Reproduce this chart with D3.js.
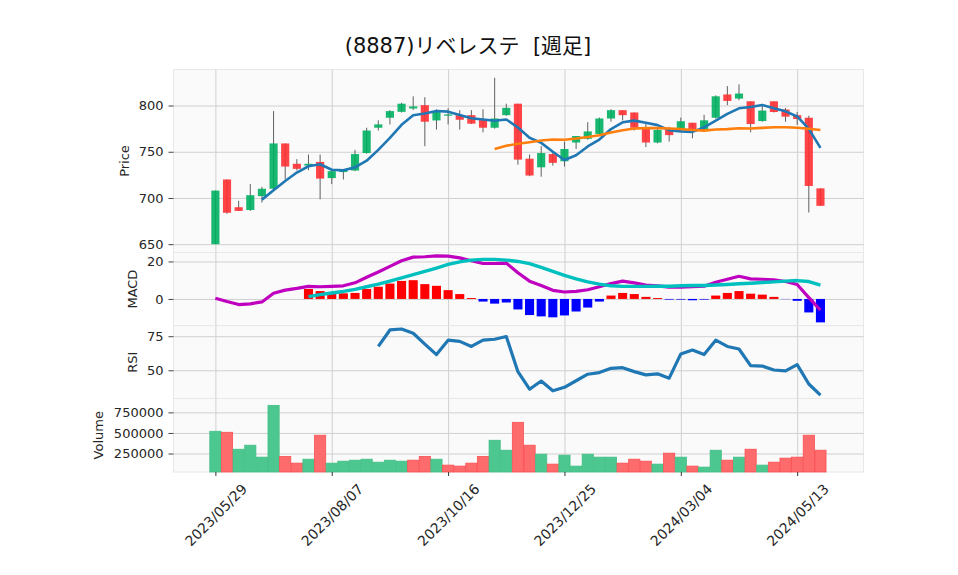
<!DOCTYPE html>
<html>
<head>
<meta charset="utf-8">
<script src="https://cdn.jsdelivr.net/npm/d3@7"></script>
<style>
  body { margin: 0; background: #fff; }
  text { font-family: "DejaVu Sans", "Noto Sans CJK JP", sans-serif; }
</style>
</head>
<body>
<div id="chart"></div>
<script>
// weekly bars, first week 2023/05/29
var tickIndex = [0, 10, 20, 30, 40, 50];
var tickLabels = ["2023/05/29", "2023/08/07", "2023/10/16", "2023/12/25", "2024/03/04", "2024/05/13"];

var opens = [650, 720, 690, 687, 702, 710, 759, 737, 735, 739, 721.5, 728, 729.7, 748.6, 776, 786.8, 793.2, 796.8, 800.4, 783.9,
  789, 789.6, 789.6, 784.3, 776, 789.6, 802, 742.5, 733.2, 747.5, 739.7, 760, 764, 769.3, 786, 795, 792.5, 775.4, 760, 775.4,
  775.4, 781.4, 773.6, 786.8, 812, 807.5, 804.6, 783.2, 804.6, 795.7, 789.6, 786.8, 710.4];
var highs = [708, 720, 697, 715, 712, 794, 759, 742, 747, 747, 730, 731, 752, 776, 784, 795, 803, 810, 809, 796,
  797, 795, 795, 796, 830, 802, 802, 747, 756, 749, 761, 767, 782, 787, 796, 795, 792.5, 781, 775, 777,
  787, 781.4, 790, 811, 821, 823, 804.6, 800.4, 804.6, 797.5, 793, 789, 710.4];
var lows = [650, 683, 686, 686, 695, 709, 720, 729.7, 730, 698.6, 715, 720, 729, 748, 773, 779.6, 792.5, 795, 756, 774,
  779.6, 774, 780, 771, 775, 789, 736, 723.6, 723, 735, 734, 753, 763, 769, 782.5, 784, 773, 755, 759, 761,
  775, 764.6, 773, 786, 800.4, 805.7, 771, 782.5, 792.5, 782.5, 779, 684.3, 691.5];
var closes = [708, 684, 686, 703, 710, 759, 734, 731.5, 737, 721, 729, 731, 747.5, 773, 779.6, 794, 802, 799, 782.5, 793,
  790.4, 784.6, 780.4, 776, 786, 797.5, 741.5, 724.3, 748.6, 738, 753, 767, 772, 786, 795, 789.6, 776, 760, 773.6, 768,
  783, 773, 784, 810, 805, 813, 780, 794.6, 793, 788, 785.4, 713, 691.5];
var volumes = [520000, 508000, 302000, 351000, 206000, 835000, 214000, 133000, 181000, 472000, 133000, 157000, 169000, 181000,
  145000, 169000, 157000, 169000, 214000, 181000, 109000, 97000, 133000, 214000, 411000, 290000, 629000, 351000, 242000,
  121000, 230000, 97000, 242000, 206000, 206000, 133000, 181000, 157000, 121000, 254000, 206000, 97000, 85000, 290000,
  169000, 206000, 302000, 109000, 145000, 194000, 206000, 472000, 290000];

var ma5 = [null, null, null, null, 698.2, 708.4, 718.4, 727.5, 734.3, 736.5, 730.5, 729.9, 733.1, 740.3, 752.0, 765.0, 779.2,
  789.5, 791.4, 794.1, 793.4, 789.9, 786.2, 784.9, 783.5, 784.9, 776.3, 765.1, 759.6, 750.0, 741.1, 746.2, 755.7, 763.2,
  774.6, 781.9, 783.7, 781.3, 778.8, 773.4, 772.1, 771.5, 776.3, 783.6, 791.0, 797.0, 798.4, 800.5, 797.1, 793.7, 788.2,
  774.8, 754.2];
var ma25 = [null, null, null, null, null, null, null, null, null, null, null, null, null, null, null, null, null, null, null,
  null, null, null, null, null, 752.9, 756.4, 758.7, 760.3, 762.1, 763.2, 763.0, 764.3, 765.9, 767.9, 770.8, 773.3, 775.1,
  775.6, 775.6, 775.1, 774.6, 773.5, 772.9, 774.0, 774.5, 775.4, 775.2, 775.8, 776.5, 776.5, 776.0, 774.9, 773.6];

var macdLine = [0.4, -1.4, -3.0, -2.6, -1.6, 3.0, 4.7, 5.6, 6.7, 6.5, 6.7, 7.0, 8.6, 11.6, 14.4, 17.4, 20.4, 22.3, 22.5, 23.0,
  22.8, 21.9, 20.4, 18.9, 18.9, 19.1, 14.0, 9.5, 7.2, 4.6, 3.7, 4.0, 4.9, 6.5, 8.2, 9.5, 8.6, 7.4, 7.0, 6.3,
  6.3, 6.5, 6.8, 8.9, 10.5, 12.1, 10.7, 10.5, 10.2, 9.3, 7.7, 0.7, -6.0];
var signalLine = [null, null, null, null, null, null, null, null, 1.2, 2.3, 3.2, 4.0, 5.1, 6.5, 7.9, 9.5, 11.2, 13.0, 14.7,
  16.5, 18.4, 19.8, 20.7, 21.1, 21.1, 20.7, 20.0, 18.8, 16.8, 14.7, 12.6, 10.7, 9.1, 7.9, 7.0, 6.7, 6.7, 6.7, 6.8, 6.8,
  7.0, 7.2, 7.2, 7.4, 7.7, 8.1, 8.4, 8.8, 9.1, 9.5, 9.8, 9.3, 7.4];
var macdHist = [null, null, null, null, null, null, null, null, 5.3, 4.2, 3.5, 3.0, 3.2, 5.3, 6.5, 8.2, 9.6, 10.0, 7.9, 7.0,
  4.7, 2.6, 0.5, -1.4, -2.5, -1.9, -5.6, -8.6, -9.3, -9.8, -8.8, -6.7, -4.6, -1.4, 1.8, 3.2, 2.6, 1.1, 0.5, -0.35,
  -0.35, -0.7, -0.35, 1.8, 3.2, 4.2, 2.8, 2.3, 1.1, -0.1, -1.0, -7.2, -12.5];
var rsi = [null, null, null, null, null, null, null, null, null, null, null, null, null, null, 67.5, 79.6, 80.3, 77.2, 69.2,
  61.5, 72.1, 71.2, 67.5, 72.1, 72.8, 74.8, 49.0, 36.1, 42.1, 34.9, 37.5, 42.3, 47.1, 48.3, 51.4, 51.9, 49.0, 46.6,
  47.4, 44.2, 62.0, 64.9, 61.5, 72.1, 67.5, 65.6, 53.4, 53.1, 50.2, 49.5, 54.1, 39.9, 31.7];

var svg = d3.select("#chart")
    .append("svg")
    .attr("width", 958)
    .attr("height", 575);

var left = 173.5, right = 863.5;
var n = closes.length;
var x = d3.scaleLinear().domain([-3.6, n - 1 + 3.7]).range([left, right]);
var step = x(1) - x(0);
var idx = d3.range(n);

function padded(lo, hi) {
  var p = (hi - lo) * 0.05;
  return [lo - p, hi + p];
}

var panels = [
  {name: "Price", top: 69.5, bottom: 252.5, labelX: 128.5, ticks: [650, 700, 750, 800]},
  {name: "MACD", top: 252.5, bottom: 325.7, labelX: 137, ticks: [0, 20]},
  {name: "RSI", top: 325.7, bottom: 398.5, labelX: 137, ticks: [50, 75]},
  {name: "Volume", top: 398.5, bottom: 472, labelX: 102.5, ticks: [250000, 500000, 750000]}
];

var macdAll = macdLine.concat(signalLine, macdHist).filter(function(v) { return v !== null; });
var rsiAll = rsi.filter(function(v) { return v !== null; });

panels[0].y = d3.scaleLinear().domain(padded(d3.min(lows), d3.max(highs))).range([panels[0].bottom, panels[0].top]);
panels[1].y = d3.scaleLinear().domain(padded(d3.min(macdAll), d3.max(macdAll))).range([panels[1].bottom, panels[1].top]);
panels[2].y = d3.scaleLinear().domain(padded(d3.min(rsiAll), d3.max(rsiAll))).range([panels[2].bottom, panels[2].top]);
panels[3].y = d3.scaleLinear().domain([0.3 * d3.min(volumes), 1.1 * d3.max(volumes)]).range([panels[3].bottom, panels[3].top]);

// backgrounds + grids
panels.forEach(function(p) {
  svg.append("rect")
      .attr("x", left).attr("y", p.top)
      .attr("width", right - left).attr("height", p.bottom - p.top)
      .attr("fill", "#fafafa")
      .attr("stroke", "#e8e8e8")
      .attr("stroke-width", 1);

  var gy = svg.append("g")
      .attr("transform", "translate(" + left + ",0)")
      .call(d3.axisLeft(p.y).tickValues(p.ticks).tickSize(-(right - left)).tickFormat(""));
  gy.select(".domain").remove();
  gy.selectAll("line").attr("stroke", "#d0d0d0").attr("stroke-width", 1);

  var gx = svg.append("g")
      .attr("transform", "translate(0," + p.bottom + ")")
      .call(d3.axisBottom(x).tickValues(tickIndex).tickSize(-(p.bottom - p.top)).tickFormat(""));
  gx.select(".domain").remove();
  gx.selectAll("line").attr("stroke", "#d0d0d0").attr("stroke-width", 1);
});

// price panel
var yP = panels[0].y;
var upC = "#00b060", downC = "#fe3032";

svg.append("g").selectAll("line")
    .data(idx)
  .enter().append("line")
    .attr("x1", function(i) { return x(i); })
    .attr("x2", function(i) { return x(i); })
    .attr("y1", function(i) { return yP(highs[i]); })
    .attr("y2", function(i) { return yP(lows[i]); })
    .attr("stroke", "#606060")
    .attr("stroke-width", 1);

svg.append("g").selectAll("rect")
    .data(idx)
  .enter().append("rect")
    .attr("x", function(i) { return x(i) - step * 0.35; })
    .attr("width", step * 0.7)
    .attr("y", function(i) { return yP(Math.max(opens[i], closes[i])); })
    .attr("height", function(i) { return Math.max(1, Math.abs(yP(opens[i]) - yP(closes[i]))); })
    .attr("fill", function(i) { return closes[i] >= opens[i] ? upC : downC; })
    .attr("fill-opacity", 0.9);

function drawLine(values, y, color, width) {
  var line = d3.line()
      .defined(function(i) { return values[i] !== null; })
      .x(function(i) { return x(i); })
      .y(function(i) { return y(values[i]); });
  svg.append("path")
      .datum(idx)
      .attr("d", line)
      .attr("fill", "none")
      .attr("stroke", color)
      .attr("stroke-width", width)
      .attr("stroke-linejoin", "round");
}

drawLine(ma5, yP, "#1f77b4", 2.6);
drawLine(ma25, yP, "#ff7f0e", 2.6);

// MACD panel
var yM = panels[1].y;
svg.append("g").selectAll("rect")
    .data(idx.filter(function(i) { return macdHist[i] !== null; }))
  .enter().append("rect")
    .attr("x", function(i) { return x(i) - step * 0.39; })
    .attr("width", step * 0.78)
    .attr("y", function(i) { return yM(Math.max(0, macdHist[i])); })
    .attr("height", function(i) { return Math.abs(yM(macdHist[i]) - yM(0)); })
    .attr("fill", function(i) { return macdHist[i] >= 0 ? "#ff0000" : "#0000ff"; });

drawLine(macdLine, yM, "#bf00bf", 3.2);
drawLine(signalLine, yM, "#00bfbf", 3.4);

// RSI panel
drawLine(rsi, panels[2].y, "#1f77b4", 3.2);

// volume panel
var yV = panels[3].y;
svg.append("g").selectAll("rect")
    .data(idx)
  .enter().append("rect")
    .attr("x", function(i) { return x(i) - step * 0.48; })
    .attr("width", step * 0.96)
    .attr("y", function(i) { return yV(volumes[i]); })
    .attr("height", function(i) { return panels[3].bottom - yV(volumes[i]); })
    .attr("fill", function(i) {
      var up = i === 0 ? closes[i] >= opens[i] : closes[i] >= closes[i - 1];
      return up ? "#4dc790" : "#fd6b6c";
    })
    .attr("stroke", function(i) {
      var up = i === 0 ? closes[i] >= opens[i] : closes[i] >= closes[i - 1];
      return up ? "#41bf86" : "#fb4f52";
    })
    .attr("stroke-width", 0.8);

// y axes and labels
panels.forEach(function(p) {
  var ax = svg.append("g")
      .attr("transform", "translate(" + left + ",0)")
      .call(d3.axisLeft(p.y).tickValues(p.ticks).tickSize(5).tickPadding(5).tickFormat(d3.format("d")));
  ax.select(".domain").remove();
  ax.selectAll("line").attr("stroke", "#444");
  ax.selectAll("text")
      .attr("font-family", "DejaVu Sans")
      .attr("font-size", "13px")
      .attr("fill", "#262626");

  svg.append("text")
      .attr("transform", "translate(" + p.labelX + "," + ((p.top + p.bottom) / 2) + ") rotate(-90)")
      .attr("text-anchor", "middle")
      .style("font-size", "13px")
      .attr("fill", "#262626")
      .text(p.name);
});

// x axis
var xa = svg.append("g")
    .attr("transform", "translate(0,472)")
    .call(d3.axisBottom(x).tickValues(tickIndex).tickSize(4)
      .tickFormat(function(d, i) { return tickLabels[i]; }));
xa.select(".domain").remove();
xa.selectAll("line").attr("stroke", "#333");
xa.selectAll("text")
    .attr("y", null)
    .attr("dy", null)
    .attr("text-anchor", "middle")
    .attr("dominant-baseline", "central")
    .attr("transform", "translate(0,43) rotate(-45)")
    .attr("font-family", "DejaVu Sans")
    .attr("font-size", "14px")
    .attr("fill", "#262626");

// title
svg.append("text")
    .attr("x", 468)
    .attr("y", 53)
    .attr("text-anchor", "middle")
    .style("font-size", "21px")
    .style("white-space", "pre")
    .attr("fill", "#111")
    .text("(8887)リベレステ  [週足]");
</script>
</body>
</html>
